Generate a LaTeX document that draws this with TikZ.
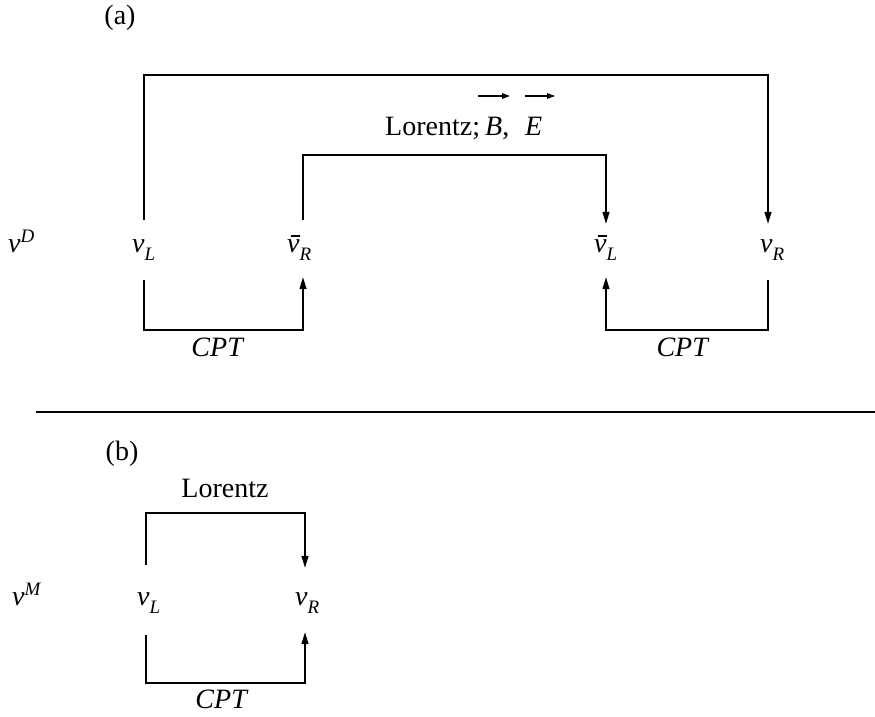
\documentclass[tikz,border=0pt]{standalone}
\usepackage{fontspec}
\setmainfont{Liberation Serif}
\usetikzlibrary{arrows.meta,calc}
\newcommand{\mysub}[1]{\raisebox{-0.3em}{\fontsize{19}{19}\selectfont\textit{#1}}}
\newcommand{\mysup}[1]{\raisebox{0.33em}{\fontsize{19}{19}\selectfont\textit{#1}}}
\newcommand{\nuit}{\textit{ν}}
\newcommand{\nubar}{\makebox[0pt][l]{\kern0.12em\raisebox{0.55em}{\rule{0.32em}{0.06em}}}\textit{ν}}
\tikzset{
  lbl/.style={font=\fontsize{28}{32}\selectfont, inner sep=0pt},
  nu/.style={lbl, text height=14pt, text depth=6pt, anchor=base west},
  ln/.style={line width=1.5pt},
  arr/.style={ln, -{Triangle[length=12pt,width=7pt]}},
  vecarr/.style={line width=1.3pt, -{Triangle[length=8pt,width=5.5pt]}}
}
\begin{document}
\begin{tikzpicture}[x=1pt,y=-1pt]
\useasboundingbox (0,0) rectangle (875,717);
% (a)
\node[lbl, anchor=base] (pa) at (120,25) {(a)};
\node[lbl, anchor=base west] (lorA) at (385,135) {Lorentz;};
\node[lbl, anchor=base west] (nB) at (485,135) {\textit{B},};
\node[lbl, anchor=base west] (nE) at (525,135) {\textit{E}};
\draw[vecarr] ($(nB.base west)+(-7,-39)$) -- ($(nB.base west)+(25,-39)$);
\draw[vecarr] ($(nE.base west)+(0,-39)$) -- ($(nE.base west)+(30,-39)$);

\node[nu] (nuD) at (8,252) {\nuit\mysup{D}};
\node[nu] (nuL1) at (132,252) {\nuit\mysub{L}};
\node[nu] (nbR1) at (287,252) {\nubar\mysub{R}};
\node[nu] (nbL1) at (594,252) {\nubar\mysub{L}};
\node[nu] (nuR1) at (760,252) {\nuit\mysub{R}};

\coordinate (oL) at (144,75);
\coordinate (oR) at (768,75);
\coordinate (iL) at (303,155);
\coordinate (iR) at (606,155);
\coordinate (cL1) at (144,330);
\coordinate (cR1) at (303,330);
\coordinate (cL2) at (606,330);
\coordinate (cR2) at (768,330);

\draw[arr, shorten <=18pt, shorten >=14pt] (nuL1.north -| oL) -- (oL) -- (oR) -- (nuR1.north -| oR);
\draw[arr, shorten <=18pt, shorten >=14pt] (nbR1.north -| iL) -- (iL) -- (iR) -- (nbL1.north -| iR);
\draw[arr, shorten <=22pt, shorten >=19pt] (nuL1.south -| cL1) -- (cL1) -- (cR1) -- (nbR1.south -| cR1);
\draw[arr, shorten <=22pt, shorten >=19pt] (nuR1.south -| cR2) -- (cR2) -- (cL2) -- (nbL1.south -| cL2);

\node[lbl, anchor=base] (cpt1) at (218,356) {\textit{CPT}};
\node[lbl, anchor=base] (cpt2) at (683,356) {\textit{CPT}};

% separator
\draw[ln] (36,412) -- (875,412);

% (b)
\node[lbl, anchor=base] (pb) at (122,460) {(b)};
\node[lbl, anchor=base] (lorB) at (225,497) {Lorentz};
\node[nu] (nuM) at (12,605) {\nuit\mysup{M}};
\node[nu] (nuL2) at (137,605) {\nuit\mysub{L}};
\node[nu] (nuR2) at (295,605) {\nuit\mysub{R}};

\coordinate (bL) at (146,513);
\coordinate (bR) at (305,513);
\coordinate (dL) at (146,683);
\coordinate (dR) at (305,683);
\draw[arr, shorten <=26pt, shorten >=23pt] (nuL2.north -| bL) -- (bL) -- (bR) -- (nuR2.north -| bR);
\draw[arr, shorten <=24pt, shorten >=21pt] (nuL2.south -| dL) -- (dL) -- (dR) -- (nuR2.south -| dR);
\node[lbl, anchor=base] (cpt3) at (222,708) {\textit{CPT}};
\end{tikzpicture}
\end{document}
